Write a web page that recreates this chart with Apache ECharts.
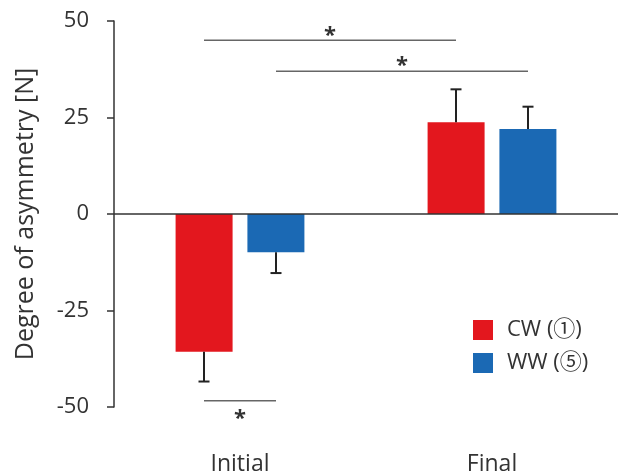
<!DOCTYPE html>
<html>
<head>
<meta charset="utf-8">
<script src="https://cdn.jsdelivr.net/npm/echarts@6/dist/echarts.min.js"></script>
<style>
  html, body { margin: 0; padding: 0; background: #fff; }
  #main { width: 618px; height: 476px; }
</style>
</head>
<body>
<div id="main"></div>
<script>
// data
var categories = ['Initial', 'Final'];
var seriesNames = ['CW (\u2460)', 'WW (\u2464)'];
var cwMeans = [-35.7, 23.8];
var cwErrors = [7.7, 8.5];
var wwMeans = [-9.9, 22.0];
var wwErrors = [5.4, 5.8];
var yTicks = [-50, -25, 0, 25, 50];
// [category A, series A, category B, series B, line height, star side]
var sigBrackets = [
    [0, 0, 1, 0, 45, 1],
    [0, 1, 1, 1, 37, 1],
    [0, 0, 0, 1, -48.4, -1]
];

var BAR_W = 57;
var BAR_SHIFT = 36; // half of bar width + gap
var FONT = '"Open Sans", "Noto Sans CJK JP", sans-serif';

function seriesX(api, cat, s) {
    var c = api.coord([cat, 0])[0];
    return c + (s === 0 ? -BAR_SHIFT : BAR_SHIFT);
}

var errData = [];
for (var i = 0; i < categories.length; i++) {
    errData.push([i, 0, cwMeans[i], cwMeans[i] + (cwMeans[i] < 0 ? -cwErrors[i] : cwErrors[i])]);
    errData.push([i, 1, wwMeans[i], wwMeans[i] + (wwMeans[i] < 0 ? -wwErrors[i] : wwErrors[i])]);
}

function renderError(params, api) {
    var x = seriesX(api, api.value(0), api.value(1));
    var y1 = api.coord([api.value(0), api.value(2)])[1];
    var y2 = api.coord([api.value(0), api.value(3)])[1];
    var st = { stroke: '#222', lineWidth: 2 };
    return {
        type: 'group',
        children: [
            { type: 'line', shape: { x1: x, y1: y1, x2: x, y2: y2 }, style: st },
            { type: 'line', shape: { x1: x - 5.5, y1: y2, x2: x + 5.5, y2: y2 }, style: st }
        ]
    };
}

function renderSig(params, api) {
    var xa = seriesX(api, api.value(0), api.value(1));
    var xb = seriesX(api, api.value(2), api.value(3));
    var y = api.coord([0, api.value(4)])[1];
    var side = api.value(5);
    return {
        type: 'group',
        children: [
            { type: 'line', shape: { x1: xa, y1: y, x2: xb, y2: y }, style: { stroke: '#666', lineWidth: 1.5 } },
            {
                type: 'text',
                style: {
                    text: '*', x: (xa + xb) / 2, y: side > 0 ? y - 5 : y + 18,
                    fill: '#333', font: 'bold 22px ' + FONT,
                    align: 'center', verticalAlign: 'middle'
                }
            }
        ]
    };
}

var myChart = echarts.init(document.getElementById('main'));
var option = {
    animation: false,
    color: ['#e3171e', '#1b69b4'],
    grid: { left: 114, top: 21, bottom: 69, width: 508 },
    legend: {
        orient: 'vertical',
        left: 473,
        top: 319,
        padding: 0,
        itemWidth: 20,
        itemHeight: 20,
        itemGap: 11,
        icon: 'rect',
        data: seriesNames,
        textStyle: { fontFamily: FONT, fontSize: 22, color: '#333', padding: [0, 0, 0, 9] }
    },
    xAxis: {
        type: 'category',
        data: categories,
        axisLine: { show: false, onZero: false },
        axisTick: { show: false },
        axisLabel: { margin: 46, fontFamily: FONT, fontSize: 23, color: '#333' }
    },
    yAxis: {
        type: 'value',
        min: yTicks[0],
        max: yTicks[yTicks.length - 1],
        interval: 25,
        name: 'Degree of asymmetry [N]',
        nameLocation: 'middle',
        nameGap: 76,
        nameTextStyle: { fontFamily: FONT, fontSize: 25, color: '#333' },
        splitLine: { show: false },
        axisLine: { show: true, lineStyle: { color: '#333', width: 1.5 } },
        axisTick: { show: true, length: 7, lineStyle: { color: '#333', width: 1.5 } },
        axisLabel: { margin: 25, fontFamily: FONT, fontSize: 22, color: '#333' }
    },
    series: [
        {
            name: seriesNames[0],
            type: 'bar',
            data: cwMeans,
            barWidth: BAR_W,
            barGap: '26%',
            markLine: {
                silent: true,
                symbol: 'none',
                label: { show: false },
                lineStyle: { color: '#333', width: 1.5, type: 'solid' },
                data: [{ yAxis: 0 }]
            }
        },
        {
            name: seriesNames[1],
            type: 'bar',
            data: wwMeans,
            barWidth: BAR_W
        },
        {
            type: 'custom',
            renderItem: renderError,
            data: errData,
            z: 5
        },
        {
            type: 'custom',
            renderItem: renderSig,
            data: sigBrackets,
            z: 5
        }
    ]
};
myChart.setOption(option);
</script>
</body>
</html>
